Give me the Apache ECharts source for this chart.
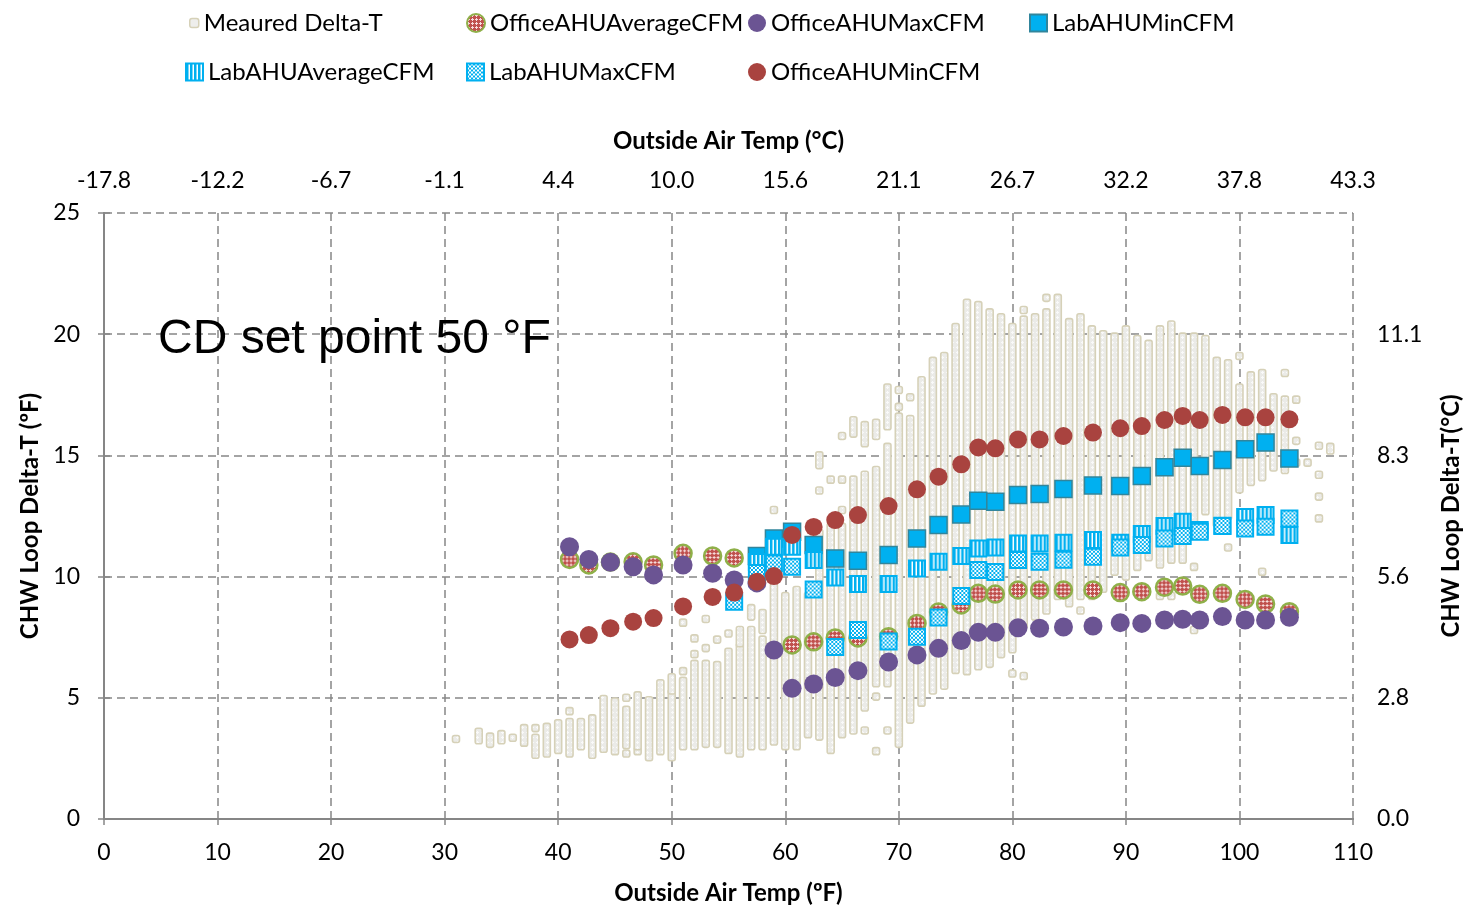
<!DOCTYPE html>
<html>
<head>
<meta charset="utf-8">
<script src="https://cdn.jsdelivr.net/npm/echarts@6/dist/echarts.min.js"></script>
<style>
  html, body { margin: 0; padding: 0; background: #fff; }
  #chart { width: 1466px; height: 909px; }
</style>
</head>
<body>
<div id="chart"></div>
<script>
  // measured delta-T, one entry per visible stack of points: [°F, low, high]
  const measuredCols = [
    [31, 3.3, 3.3], [33, 3.25, 3.6], [34, 3.1, 3.4], [35, 3.25, 3.5], [36, 3.35, 3.35], [37, 3.15, 3.75],
    [38, 2.65, 3.35], [38, 3.75, 3.75], [39, 2.7, 3.8], [40, 2.85, 3.95], [41, 2.7, 4.0], [41, 4.45, 4.45],
    [42, 3.0, 4.0], [43, 2.65, 4.15], [44, 2.9, 4.95], [45, 2.8, 4.85], [46, 2.7, 2.7], [46, 3.05, 4.5], [46, 5.0, 5.0],
    [47, 2.8, 2.8], [47, 3.0, 5.1], [48, 2.55, 4.9], [49, 2.8, 5.6], [50, 2.55, 5.2], [50, 5.3, 5.85],
    [51, 3.0, 5.7], [51, 6.1, 6.1], [51, 8.1, 8.1], [52, 3.0, 6.4], [52, 6.8, 6.8], [52, 7.45, 7.45],
    [53, 3.1, 6.4], [53, 7.05, 7.05], [53, 8.25, 8.25], [54, 3.1, 6.35], [54, 7.4, 7.4], [55, 2.85, 6.9], [55, 7.65, 7.65],
    [56, 2.7, 7.1], [56, 7.25, 7.8], [57, 3.0, 7.8], [57, 8.35, 8.7], [58, 3.0, 7.4], [58, 7.8, 8.5],
    [59, 3.2, 9.6], [59, 12.75, 12.75], [60, 3.0, 9.2], [61, 3.0, 9.45], [62, 3.5, 9.2],
    [63, 3.4, 11.8], [63, 13.55, 13.55], [63, 14.6, 15.0], [64, 2.85, 12.05], [64, 14.0, 14.0],
    [65, 3.5, 12.05], [65, 12.75, 12.75], [65, 14.0, 14.0], [65, 15.8, 15.8], [66, 3.65, 14.0], [66, 15.9, 16.45],
    [67, 3.65, 3.65], [67, 4.6, 14.2], [67, 15.5, 16.25], [68, 2.8, 2.8], [68, 5.05, 5.05], [68, 5.6, 14.4], [68, 15.8, 16.35],
    [69, 3.65, 3.65], [69, 5.6, 15.35], [69, 16.2, 17.8], [70, 3.1, 16.6], [70, 17.0, 17.0], [70, 17.7, 17.7],
    [71, 4.1, 16.5], [71, 17.4, 17.4], [72, 4.8, 18.1], [73, 5.3, 18.9], [74, 5.5, 19.1], [75, 6.15, 20.3],
    [76, 6.1, 21.3], [77, 6.3, 21.2], [78, 6.4, 20.9], [79, 6.8, 20.7], [80, 6.0, 6.0], [80, 7.0, 20.3],
    [81, 5.9, 5.9], [81, 8.0, 20.6], [81, 21.0, 21.0], [82, 8.35, 20.7], [83, 8.6, 20.9], [83, 21.5, 21.5],
    [84, 9.2, 21.5], [85, 8.9, 20.5], [86, 8.6, 8.6], [86, 9.2, 20.7], [87, 9.2, 20.2], [88, 9.5, 20.0],
    [89, 10.2, 19.9], [90, 10.0, 20.2], [91, 10.4, 19.8], [92, 10.8, 19.6], [93, 9.2, 9.2], [93, 10.5, 20.2],
    [94, 9.2, 9.2], [94, 10.7, 20.4], [95, 10.7, 19.9], [96, 7.8, 7.8], [96, 10.4, 10.4], [96, 12.2, 19.9],
    [97, 12.7, 19.8], [98, 12.2, 18.9], [99, 11.2, 11.2], [99, 12.5, 18.8], [100, 13.6, 17.8], [100, 19.1, 19.1],
    [101, 13.9, 18.3], [102, 10.2, 10.2], [102, 14.1, 18.4], [103, 14.5, 17.4], [104, 14.4, 17.3], [104, 18.4, 18.4],
    [105, 14.7, 14.7], [105, 15.6, 15.6], [105, 17.3, 17.3], [106, 14.7, 14.7],
    [107, 12.4, 12.4], [107, 13.3, 13.3], [107, 14.2, 14.2], [107, 15.4, 15.4], [108, 15.2, 15.35]
  ]

  const officeX = [41.0, 42.7, 44.6, 46.6, 48.4, 51.0, 53.6, 55.5, 57.5, 59.0, 60.6, 62.5, 64.4, 66.4, 69.1, 71.6, 73.5,
    75.5, 77.0, 78.5, 80.5, 82.4, 84.5, 87.1, 89.5, 91.4, 93.4, 95.0, 96.5, 98.5, 100.5, 102.3, 104.4]
  const officeAvg = [10.71, 10.48, 10.6, 10.61, 10.48, 10.96, 10.85, 10.77, null, null, 7.18, 7.31, 7.47, 7.47, 7.52, 8.07, 8.54,
    8.83, 9.31, 9.28, 9.45, 9.45, 9.45, 9.45, 9.34, 9.38, 9.56, 9.61, 9.27, 9.31, 9.06, 8.87, 8.55]
  const officeMax = [11.23, 10.71, 10.59, 10.41, 10.07, 10.48, 10.14, 9.86, 9.74, 6.97, 5.39, 5.57, 5.84, 6.12, 6.48, 6.77, 7.04,
    7.36, 7.7, 7.7, 7.89, 7.87, 7.92, 7.96, 8.1, 8.07, 8.21, 8.24, 8.21, 8.35, 8.21, 8.21, 8.32]
  const officeMin = [7.41, 7.59, 7.87, 8.14, 8.29, 8.77, 9.16, 9.34, 9.79, 10.02, 11.72, 12.05, 12.33, 12.54, 12.91, 13.6, 14.12,
    14.63, 15.33, 15.29, 15.66, 15.66, 15.8, 15.94, 16.12, 16.21, 16.46, 16.63, 16.46, 16.67, 16.57, 16.57, 16.49]

  const labX = [55.5, 57.5, 59.0, 60.6, 62.5, 64.4, 66.4, 69.1, 71.6, 73.5, 75.5, 77.0, 78.5, 80.5, 82.4, 84.5, 87.1,
    89.5, 91.4, 93.4, 95.0, 96.5, 98.5, 100.5, 102.3, 104.4]
  const labMin = [null, 10.85, 11.57, 11.85, 11.3, 10.75, 10.65, 10.89, 11.57, 12.13, 12.56, 13.13, 13.09, 13.37, 13.41, 13.61, 13.76,
    13.74, 14.15, 14.51, 14.9, 14.56, 14.81, 15.25, 15.53, 14.87]
  const labAvg = [null, 10.6, 11.23, 11.23, 10.68, 9.96, 9.69, 9.69, 10.33, 10.61, 10.85, 11.16, 11.2, 11.37, 11.37, 11.4, 11.51,
    11.4, 11.76, 12.09, 12.26, 11.92, 12.1, 12.46, 12.54, 11.72]
  const labMax = [8.96, 10.15, 10.54, 10.41, 9.47, 7.1, 7.8, 7.32, 7.52, 8.31, 9.2, 10.27, 10.19, 10.68, 10.61, 10.7, 10.82,
    11.2, 11.3, 11.57, 11.68, 11.85, 12.09, 11.98, 12.06, 12.4]

  // tick labels
  const celsiusLabels = ['-17.8', '-12.2', '-6.7', '-1.1', '4.4', '10.0', '15.6', '21.1', '26.7', '32.2', '37.8', '43.3']
  const celsiusDeltaLabels = ['0.0', '2.8', '5.6', '8.3', '11.1', '']

  const pairs = (xs, ys) => xs.map((x, i) => [x, ys[i]]).filter(p => p[1] != null)

  const FONT = 'Lato'
  const GRID_COLOR = '#868686'

  // symbols are drawn as a 2x2 path scaled up by size/2, so the pattern is scaled back down
  function pattern(w, h, draw, symbolSize) {
    const c = document.createElement('canvas')
    c.width = w
    c.height = h
    draw(c.getContext('2d'))
    const p = { image: c, repeat: 'repeat' }
    if (symbolSize) {
      p.scaleX = 2 / symbolSize
      p.scaleY = 2 / symbolSize
    }
    return p
  }

  function drawDots(ctx) {
    ctx.fillStyle = '#c0504d'
    ctx.fillRect(0, 0, 4, 4)
    ctx.fillStyle = '#f6dcdb'
    ctx.fillRect(1, 0, 1, 3)
    ctx.fillRect(0, 1, 3, 1)
  }
  function drawStripes(ctx) {
    ctx.fillStyle = '#ffffff'
    ctx.fillRect(0, 0, 4, 4)
    ctx.fillStyle = '#00b0f0'
    ctx.fillRect(0, 0, 2.5, 4)
  }
  function drawChecks(ctx) {
    ctx.fillStyle = '#00b0f0'
    ctx.fillRect(0, 0, 4, 4)
    ctx.fillStyle = '#ffffff'
    ctx.fillRect(0, 0, 2, 2)
    ctx.fillRect(2, 2, 2, 2)
  }
  function drawCrosses(ctx) {
    ctx.fillStyle = '#ebebe8'
    ctx.fillRect(0, 0, 5, 5)
    ctx.fillStyle = '#fafafa'
    ctx.fillRect(2, 1, 1, 3)
    ctx.fillRect(1, 2, 3, 1)
  }

  const AVG_SIZE = 17
  const LAB_SIZE = 16
  const cloudFill = pattern(5, 5, drawCrosses)

  const chart = echarts.init(document.getElementById('chart'))

  const legendText = { fontFamily: FONT, fontSize: 24, color: '#000' }
  function legendAt(name, left, top, size, itemStyle) {
    const item = { name: name }
    if (itemStyle) item.itemStyle = itemStyle
    return {
      data: [item], left: left, top: top, itemWidth: size, itemHeight: size, itemGap: 0,
      textStyle: legendText, selectedMode: false, padding: 0
    }
  }

  const axisName = { fontFamily: FONT, fontSize: 24, fontWeight: 'bold', color: '#000' }
  const tickLabel = { fontFamily: FONT, fontSize: 23, color: '#000' }
  const dashed = { show: true, lineStyle: { color: GRID_COLOR, width: 1.5, type: [8, 5] } }
  const solidAxis = { show: true, lineStyle: { color: GRID_COLOR, width: 2 } }
  const tickStyle = { color: GRID_COLOR, width: 1.5 }

  chart.setOption({
    animation: false,
    backgroundColor: '#fff',
    legend: [
      legendAt('Meaured Delta-T', 189, 11, 9,
        { color: '#eeeeec', borderColor: '#d6d1b8', borderWidth: 1.5 }),
      legendAt('OfficeAHUAverageCFM', 466, 11, 18,
        { color: pattern(4, 4, drawDots), borderColor: '#8fb049', borderWidth: 2 }),
      legendAt('OfficeAHUMaxCFM', 748, 11, 18),
      legendAt('LabAHUMinCFM', 1029, 11, 17),
      legendAt('LabAHUAverageCFM', 185, 60, 17,
        { color: pattern(4, 4, drawStripes), borderColor: '#00b0f0', borderWidth: 2 }),
      legendAt('LabAHUMaxCFM', 466, 60, 17,
        { color: pattern(4, 4, drawChecks), borderColor: '#00b0f0', borderWidth: 2 }),
      legendAt('OfficeAHUMinCFM', 748, 60, 18)
    ],
    grid: { left: 104, right: 113, top: 213, bottom: 90, outerBoundsMode: 'none' },
    xAxis: [
      {
        type: 'value', position: 'bottom', min: 0, max: 110, interval: 10,
        name: 'Outside Air Temp (ºF)', nameLocation: 'middle', nameGap: 62, nameTextStyle: axisName,
        axisLine: solidAxis, axisTick: { show: true, length: 6, lineStyle: tickStyle },
        axisLabel: Object.assign({ margin: 22 }, tickLabel),
        splitLine: dashed
      },
      {
        type: 'value', position: 'top', min: 0, max: 110, interval: 10,
        name: 'Outside Air Temp (°C)', nameLocation: 'middle', nameGap: 60, nameTextStyle: axisName,
        axisLine: solidAxis, axisTick: { show: true, inside: true, length: 6, lineStyle: tickStyle },
        axisLabel: Object.assign({ margin: 21, formatter: v => celsiusLabels[Math.round(v / 10)] }, tickLabel),
        splitLine: { show: false }
      }
    ],
    yAxis: [
      {
        type: 'value', position: 'left', min: 0, max: 25, interval: 5,
        name: 'CHW Loop Delta-T (ºF)', nameLocation: 'middle', nameGap: 62, nameTextStyle: axisName,
        axisLine: solidAxis, axisTick: { show: true, length: 6, lineStyle: tickStyle },
        axisLabel: Object.assign({ margin: 24 }, tickLabel),
        splitLine: dashed
      },
      {
        type: 'value', position: 'right', min: 0, max: 25, interval: 5,
        name: 'CHW Loop Delta-T(°C)', nameLocation: 'middle', nameGap: 86, nameTextStyle: axisName,
        axisLine: solidAxis, axisTick: { show: true, length: 6, lineStyle: tickStyle },
        axisLabel: Object.assign({ margin: 24, formatter: v => celsiusDeltaLabels[Math.round(v / 5)] }, tickLabel),
        splitLine: { show: false }
      }
    ],
    graphic: [{
      type: 'text', left: 158, top: 316, z: 100,
      style: { text: 'CD set point 50 °F', font: '48px "Liberation Sans"', fill: '#000' }
    }],
    series: [
      {
        name: 'Meaured Delta-T',
        type: 'custom',
        data: measuredCols,
        encode: { x: 0, y: [1, 2] },
        itemStyle: { color: '#eeeeec', borderColor: '#d6d1b8', borderWidth: 1.5 },
        renderItem: function (params, api) {
          const top = api.coord([api.value(0), api.value(2)])
          const bottom = api.coord([api.value(0), api.value(1)])
          return {
            type: 'rect',
            shape: { x: top[0] - 3.5, y: top[1] - 3.5, width: 7, height: bottom[1] - top[1] + 7, r: 2 },
            style: { fill: cloudFill, stroke: '#d6d1b8', lineWidth: 1.6 }
          }
        }
      },
      {
        name: 'OfficeAHUAverageCFM', type: 'scatter', symbol: 'circle', symbolSize: AVG_SIZE,
        data: pairs(officeX, officeAvg),
        itemStyle: { color: pattern(4, 4, drawDots, AVG_SIZE), borderColor: '#8fb049', borderWidth: 2.5, opacity: 1 }
      },
      {
        name: 'OfficeAHUMaxCFM', type: 'scatter', symbol: 'circle', symbolSize: 19,
        data: pairs(officeX, officeMax),
        itemStyle: { color: '#6b5493', opacity: 1 }
      },
      {
        name: 'LabAHUMinCFM', type: 'scatter', symbol: 'rect', symbolSize: 17,
        data: pairs(labX, labMin),
        itemStyle: { color: '#00b0f0', borderColor: '#31859c', borderWidth: 1.5, opacity: 1 }
      },
      {
        name: 'LabAHUAverageCFM', type: 'scatter', symbol: 'rect', symbolSize: LAB_SIZE,
        data: pairs(labX, labAvg),
        itemStyle: { color: pattern(4, 4, drawStripes, LAB_SIZE), borderColor: '#00b0f0', borderWidth: 2, opacity: 1 }
      },
      {
        name: 'LabAHUMaxCFM', type: 'scatter', symbol: 'rect', symbolSize: LAB_SIZE,
        data: pairs(labX, labMax),
        itemStyle: { color: pattern(4, 4, drawChecks, LAB_SIZE), borderColor: '#00b0f0', borderWidth: 2, opacity: 1 }
      },
      {
        name: 'OfficeAHUMinCFM', type: 'scatter', symbol: 'circle', symbolSize: 18,
        data: pairs(officeX, officeMin),
        itemStyle: { color: '#a9433f', opacity: 1 }
      }
    ]
  })
</script>
</body>
</html>
